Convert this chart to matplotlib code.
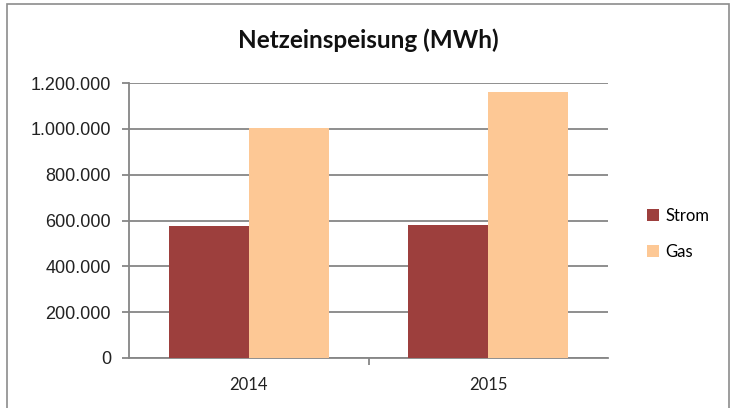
import numpy as np
import matplotlib.pyplot as plt
from matplotlib.patches import Rectangle
from matplotlib.ticker import FuncFormatter

# data
years = ['2014', '2015']
strom = [578000, 582000]
gas = [1003000, 1160000]
series_names = ['Strom', 'Gas']
colors = ['#9D3F3D', '#FDC895']

W, H = 731, 408
fig = plt.figure(figsize=(W / 100, H / 100), dpi=100)
fig.patch.set_facecolor('white')

# outer chart frame (bottom edge is cut off in the reference)
fig.patches.append(Rectangle((7 / W, -0.05), (729 - 7) / W, 1 - 4 / H + 0.05,
                             transform=fig.transFigure, fill=False,
                             edgecolor='#8C8C8C', linewidth=1.2))

ax = fig.add_axes([129 / W, 1 - 358 / H, (608 - 129) / W, (358 - 83) / H])

x = np.arange(len(years))
bw = 0.334
ax.bar(x - bw / 2, strom, bw, color=colors[0], label=series_names[0], zorder=3)
ax.bar(x + bw / 2, gas, bw, color=colors[1], label=series_names[1], zorder=3)

ax.set_xlim(-0.5, len(years) - 0.5)
ax.set_ylim(0, 1200000)
ax.set_yticks(np.arange(0, 1200001, 200000))
ax.yaxis.set_major_formatter(FuncFormatter(lambda v, p: f'{int(v):,}'.replace(',', '.')))
ax.grid(axis='y', color='#868686', linewidth=1.3, zorder=0)

for s in ['top', 'right']:
    ax.spines[s].set_visible(False)
for s in ['left', 'bottom']:
    ax.spines[s].set_color('#868686')
    ax.spines[s].set_linewidth(1.3)

ax.tick_params(axis='y', length=5, width=1.3, color='#868686', pad=8,
               labelsize=13, labelcolor='#222222')
for lbl in ax.get_yticklabels():
    lbl.set_family('Liberation Sans')

# category labels without ticks, separator ticks between categories
ax.set_xticks(x)
ax.set_xticklabels(years, family='Lato', fontsize=12, color='#222222')
ax.tick_params(axis='x', length=0, pad=14)
ax.set_xticks([0.5], minor=True)
ax.tick_params(axis='x', which='minor', length=5, width=1.3, color='#868686')

fig.text(368 / W, 1 - 40 / H, 'Netzeinspeisung (MWh)', ha='center', va='center',
         family='Lato', fontweight='bold', fontsize=17.5, color='#111111')

ax.legend(loc='center left', bbox_to_anchor=(632 / W, 1 - 234 / H),
          bbox_transform=fig.transFigure, frameon=False,
          prop={'family': 'Lato', 'size': 12}, handlelength=0.7,
          handleheight=0.7, handletextpad=0.4, labelspacing=1.2)

fig.savefig('out.png', dpi=100)
